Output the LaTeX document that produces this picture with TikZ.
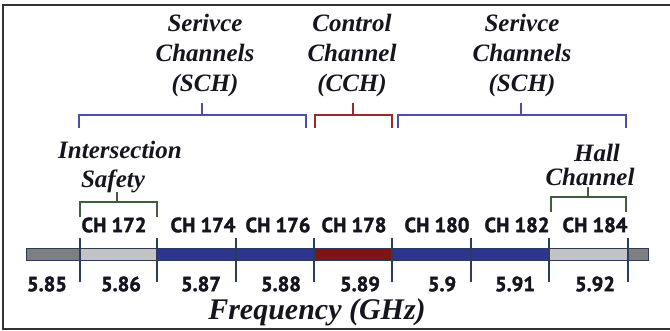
\documentclass[tikz,border=0pt]{standalone}
\usepackage{fontspec}
\setmainfont{Liberation Serif}
\newfontfamily\chfont[BoldFeatures={FakeBold=2}]{PT Sans}
\definecolor{dgray}{HTML}{7F7F7F}
\definecolor{lgray}{HTML}{C3C3C3}
\definecolor{bandblue}{HTML}{2E358C}
\definecolor{bandred}{HTML}{7E1416}
\definecolor{outl}{HTML}{2B3B5C}
\definecolor{brblue}{HTML}{4A4FA8}
\definecolor{brred}{HTML}{9A2A2A}
\definecolor{brgreen}{HTML}{3E5E3E}
\definecolor{txt}{HTML}{15151F}
\tikzset{
  toplbl/.style={font=\fontsize{25}{30}\selectfont\bfseries\itshape, text=txt, align=center, inner sep=0pt},
  chlbl/.style={font=\chfont\fontsize{20.5}{20}\selectfont\bfseries, text=txt, inner sep=0pt},
  frlbl/.style={font=\chfont\fontsize{20.5}{20}\selectfont\bfseries, text=txt, inner sep=0pt},
  brk/.style={line width=1.3pt},
  tick/.style={outl, line width=1.2pt},
}
\begin{document}
\begin{tikzpicture}[x=1pt,y=-1pt]
\useasboundingbox (0,0) rectangle (670,331);
% frame
\draw[line width=2pt, black!80] (671,5) -- (3,5) -- (3,329) -- (671,329);
% band segments
\fill[dgray] (26,249) rectangle (80,261);
\fill[lgray] (80,249) rectangle (157,261);
\fill[bandblue] (157,249) rectangle (314,261);
\fill[bandred] (314,249) rectangle (392,261);
\fill[bandblue] (392,249) rectangle (549,261);
\fill[lgray] (549,249) rectangle (628,261);
\fill[dgray] (628,249) rectangle (648,261);
\draw[outl, line width=1pt] (26,249) rectangle (648,261);
% ticks
\foreach \x [count=\i] in {80,157,236,314,392,471,549,628}{
  \coordinate (t\i a) at (\x,238);
  \coordinate (t\i b) at (\x,282);
  \draw[tick] (t\i a) -- (t\i b);
}
% channel labels
\node[chlbl] (ch172) at (114,225) {CH 172};
\node[chlbl] (ch174) at (203,225) {CH 174};
\node[chlbl] (ch176) at (278,225) {CH 176};
\node[chlbl] (ch178) at (354,225) {CH 178};
\node[chlbl] (ch180) at (437,225) {CH 180};
\node[chlbl] (ch182) at (517,225) {CH 182};
\node[chlbl] (ch184) at (595,225) {CH 184};
% frequency labels
\node[frlbl] (f85) at (47,284) {5.85};
\node[frlbl] (f86) at (121,284) {5.86};
\node[frlbl] (f87) at (201,284) {5.87};
\node[frlbl] (f88) at (281,284) {5.88};
\node[frlbl] (f89) at (360,284) {5.89};
\node[frlbl] (f90) at (442,284) {5.9};
\node[frlbl] (f91) at (515,284) {5.91};
\node[frlbl] (f92) at (595,284) {5.92};
\node[toplbl, font=\fontsize{30}{30}\selectfont\bfseries\itshape] (freq) at (317,312) {Frequency (GHz)};
% top labels
\node[toplbl] (sch1) at (205,55) {Serivce\\Channels\\(SCH)};
\node[toplbl] (cch) at (352,55) {Control\\Channel\\(CCH)};
\node[toplbl] (sch2) at (522,55) {Serivce\\Channels\\(SCH)};
\node[toplbl] (isec) at (120,150) {Intersection};
\node[toplbl] (safe) at (113,181) {Safety};
\node[toplbl] (hall) at (597,153) {Hall};
\node[toplbl] (hchan) at (590,177) {Channel};
% brackets
\coordinate (s1l) at (79,128); \coordinate (s1r) at (306,128); \coordinate (s1s) at (202,103);
\draw[brk, brblue] (s1l) -- (79,115) -- (306,115) -- (s1r);
\draw[brk, brblue] (s1s) -- (202,115);
\coordinate (cl) at (315,128); \coordinate (cr) at (392,128); \coordinate (cs) at (353,103);
\draw[brk, brred] (cl) -- (315,115) -- (392,115) -- (cr);
\draw[brk, brred] (cs) -- (353,115);
\coordinate (s2l) at (398,128); \coordinate (s2r) at (626,128); \coordinate (s2s) at (521,103);
\draw[brk, brblue] (s2l) -- (398,115) -- (626,115) -- (s2r);
\draw[brk, brblue] (s2s) -- (521,115);
\coordinate (g1l) at (80,217); \coordinate (g1r) at (157,217); \coordinate (g1s) at (117,192);
\draw[brk, brgreen] (g1l) -- (80,202) -- (157,202) -- (g1r);
\draw[brk, brgreen] (g1s) -- (117,202);
\coordinate (g2l) at (551,212); \coordinate (g2r) at (626,212); \coordinate (g2s) at (588,187);
\draw[brk, brgreen] (g2l) -- (551,197) -- (626,197) -- (g2r);
\draw[brk, brgreen] (g2s) -- (588,197);
\end{tikzpicture}
\end{document}
